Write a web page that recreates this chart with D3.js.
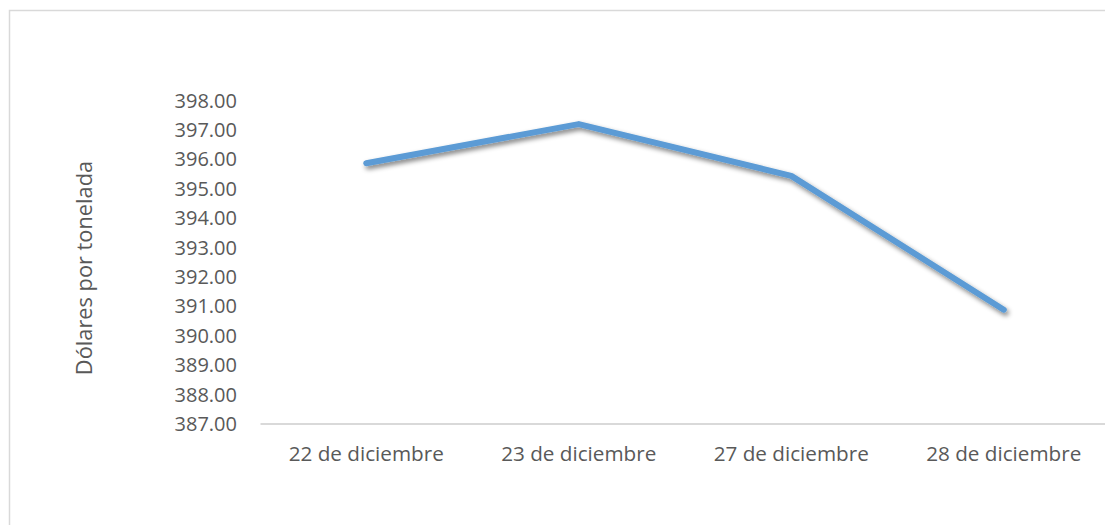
<!DOCTYPE html>
<html><head><meta charset="utf-8">
<script src="https://cdn.jsdelivr.net/npm/d3@7"></script>
<style>body{margin:0;background:#fff}svg{display:block}text{font-family:"Open Sans",sans-serif;fill:#595959}</style>
</head><body><svg id="c" width="1105" height="525"></svg>
<script>
const categories = ["22 de diciembre","23 de diciembre","27 de diciembre","28 de diciembre"];
const values = [395.85, 397.18, 395.42, 390.87];
const yTicks = [387,388,389,390,391,392,393,394,395,396,397,398];
const yTitle = "Dólares por tonelada";

const svg = d3.select("#c");
svg.append("rect").attr("x",9.5).attr("y",10.5).attr("width",1200).attr("height",600)
  .attr("fill","#fff").attr("stroke","#d9d9d9").attr("stroke-width",1.5);

const defs = svg.append("defs");
const f = defs.append("filter").attr("id","sh").attr("x","-10%").attr("y","-10%").attr("width","120%").attr("height","140%");
f.append("feGaussianBlur").attr("in","SourceAlpha").attr("stdDeviation",2.5).attr("result","b");
f.append("feOffset").attr("in","b").attr("dx",2).attr("dy",3).attr("result","o");
f.append("feComponentTransfer").attr("in","o").attr("result","o2").append("feFuncA").attr("type","linear").attr("slope",0.5);
const m = f.append("feMerge"); m.append("feMergeNode").attr("in","o2"); m.append("feMergeNode").attr("in","SourceGraphic");

const x = d3.scaleBand().domain(categories).range([260,1110]);
const y = d3.scaleLinear().domain([387,398]).range([423.5,100]);

const ya = svg.append("g").attr("transform","translate(260,0)")
  .call(d3.axisLeft(y).tickValues(yTicks).tickFormat(d3.format(".2f")).tickSize(0).tickPadding(23));
ya.select(".domain").remove();
ya.selectAll("text").style("font-size","20px").attr("dy","0.35em");

const xa = svg.append("g").attr("transform","translate(0,423.5)")
  .call(d3.axisBottom(x).tickSize(0).tickPadding(23));
xa.select(".domain").attr("stroke","#d9d9d9").attr("stroke-width",2);
xa.selectAll("text").style("font-size","20.7px").attr("dy","0.71em");

svg.append("text").attr("transform","translate(92,268) rotate(-90)").attr("text-anchor","middle")
  .style("font-size","21.8px").text(yTitle);

const line = d3.line().x((d,i)=>x(categories[i])+x.bandwidth()/2).y(d=>y(d));
svg.append("path").datum(values).attr("d",line).attr("fill","none").attr("stroke","#5B9BD5")
  .attr("stroke-width",6).attr("stroke-linecap","round").attr("stroke-linejoin","round").attr("filter","url(#sh)");
</script></body></html>
